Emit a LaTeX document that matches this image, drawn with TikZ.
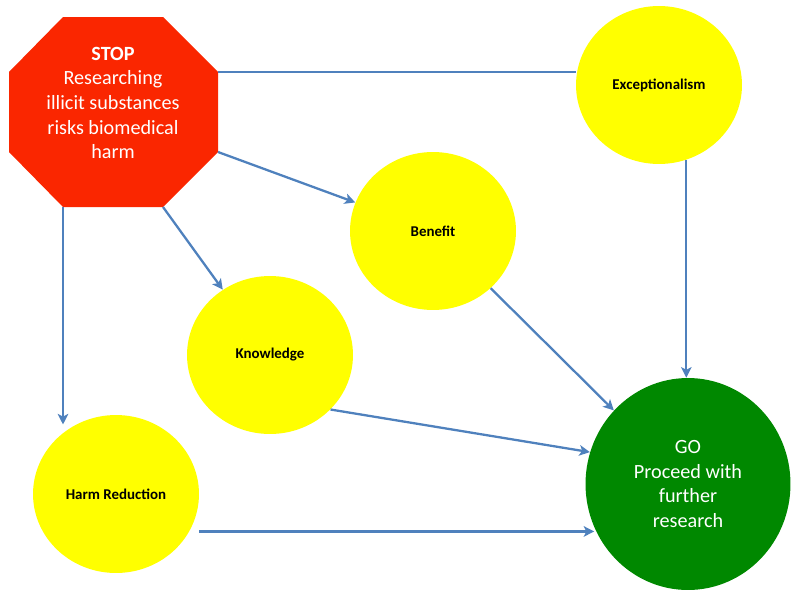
\documentclass[tikz,border=0pt]{standalone}
\usepackage{fontspec}
\setmainfont{Carlito}
\usepackage{xcolor}
\usetikzlibrary{positioning,arrows.meta,shapes.geometric}

\definecolor{stopred}{RGB}{250,38,0}
\definecolor{factorfill}{RGB}{255,255,0}
\definecolor{gogreen}{RGB}{0,136,0}
\definecolor{linkblue}{RGB}{79,129,189}

\begin{document}
\begin{tikzpicture}[
    x=0.02cm, y=-0.02cm,
    factor/.style={ellipse, fill=factorfill, minimum width=3.32cm, minimum height=3.16cm,
                   inner sep=0pt, font=\fontsize{8.5}{10}\selectfont\bfseries},
    goal/.style={ellipse, fill=gogreen, minimum width=4.1cm, minimum height=4.24cm,
                 inner sep=0pt, text=white, align=center, font=\fontsize{11.5}{14}\selectfont},
    link/.style={draw=linkblue, line width=1.3pt},
    >={Stealth[length=6pt,width=6pt,inset=1.5pt]}
]
\useasboundingbox (0,0) rectangle (800,602);

\coordinate (o1) at (63,17);
\coordinate (o2) at (163,17);
\coordinate (o3) at (218,72);
\coordinate (o4) at (218,152);
\coordinate (o5) at (163,207);
\coordinate (o6) at (63,207);
\coordinate (o7) at (9,152);
\coordinate (o8) at (9,72);
\fill[stopred] (o1) -- (o2) -- (o3) -- (o4) -- (o5) -- (o6) -- (o7) -- (o8) -- cycle;
\node[text=white, align=center, font=\fontsize{11.5}{14}\selectfont] (stop) at (113,103)
    {\textbf{STOP}\\Researching\\illicit substances\\risks biomedical\\harm};

\node[factor] (exc) at (659,85) {Exceptionalism};
\node[factor] (ben) at (433,231) {Benefit};
\node[factor] (kn) at (270,355) {Knowledge};
\node[factor] (hr) at (116,494) {Harm Reduction};
\node[goal] (go) at (688,484) {GO\\Proceed with\\further\\research};

\draw[link] (o3) -- (exc.west |- o3);
\draw[link,->] (o4) -- (ben);
\draw[link,->] (o5) -- (kn);
\draw[link,->] (o6) -- (o6 |- hr.120);
\draw[link,->] (exc.-70) -- (exc.-70 |- go.north);
\draw[link,->] (ben) -- (go);
\draw[link,->] (kn.-42) -- (go.162);
\draw[link,->] (hr.-27 -| hr.east) -- (hr.-27 -| go.-155);
\end{tikzpicture}
\end{document}
